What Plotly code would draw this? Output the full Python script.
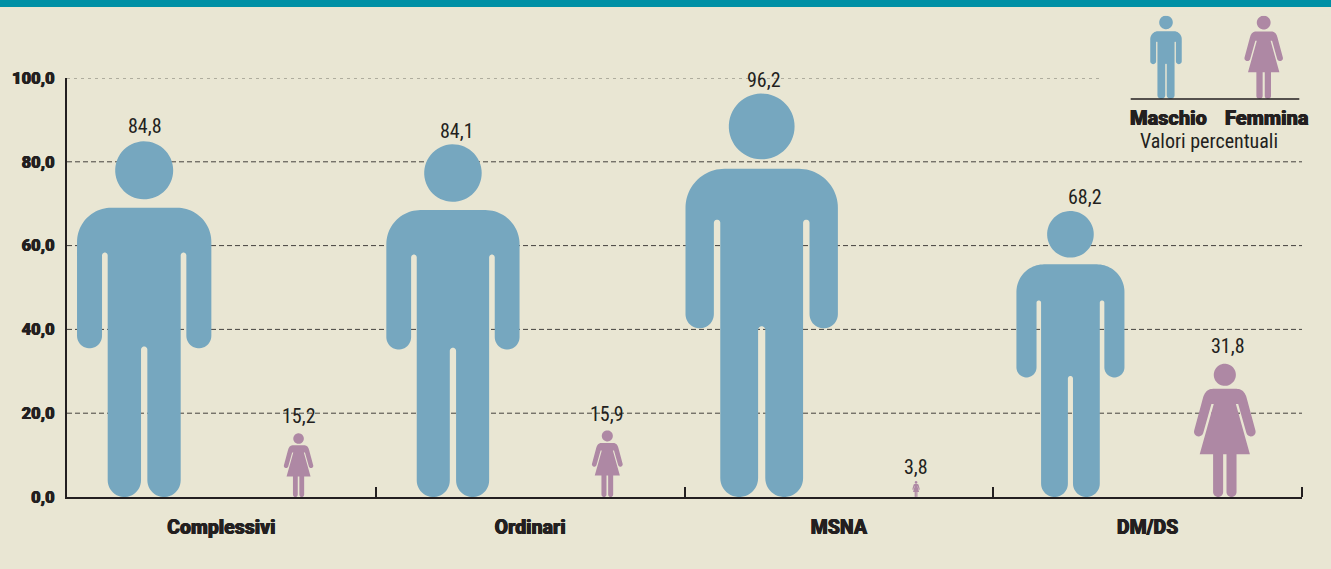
import numpy as np
import plotly.graph_objects as go

# ---- data ----
categories = ["Complessivi", "Ordinari", "MSNA", "DM/DS"]
maschio = [84.8, 84.1, 96.2, 68.2]
femmina = [15.2, 15.9, 3.8, 31.8]
y_ticks = [0, 20, 40, 60, 80, 100]
legend_labels = ["Maschio", "Femmina"]
legend_note = "Valori percentuali"

# ---- style ----
W, H = 1331, 569
PL, PR, PT, PB = 67, 1302, 78, 497        # plot box in pixels
PX_X = (PR - PL) / 4.0                    # pixels per group
PX_Y = (PB - PT) / 100.0                  # pixels per percentage point
BG = "#E9E6D3"
TEAL = "#0090A5"
INK = "#231F20"
BLUE = "#76A7BF"
MAUVE = "#AE88A4"
THICK = "0.4px 0 0 #231F20, -0.4px 0 0 #231F20"
HEAVY = dict(family="Roboto, Liberation Sans, sans-serif", color=INK, weight=900, shadow=THICK)
NARROW = "Liberation Sans Narrow, Roboto Condensed, Liberation Sans, sans-serif"
# label placement relative to the top of each figure, pixels
male_dx, male_dy = [1, 4, 2, 15], [15.7, 13.6, 14, 14]
female_dx, female_dy = [0, 0, 0, 3], [17, 16, 14, 18]


def px(x):
    return x / W


def py(y):
    return 1 - y / H


def arc(cx, cy, r, a0, a1, n=24):
    t = np.radians(np.linspace(a0, a1, n))
    return list(zip(cx + r * np.cos(t), cy + r * np.sin(t)))


def bez(p0, c, p1, n=14):
    t = np.linspace(0, 1, n)
    return [((1 - s) ** 2 * p0[0] + 2 * s * (1 - s) * c[0] + s * s * p1[0],
             (1 - s) ** 2 * p0[1] + 2 * s * (1 - s) * c[1] + s * s * p1[1]) for s in t]


def person(left_half, head_h, head_r, total):
    """Mirror a left-hand outline, add a head; unit height template."""
    pts = left_half + [(-x, y) for x, y in reversed(left_half)]
    pts.append(pts[0])
    head = arc(0, head_h, head_r, 0, 360, 60)
    u = [p[0] / total for p in pts] + [None] + [p[0] / total for p in head]
    v = [p[1] / total for p in pts] + [None] + [p[1] / total for p in head]
    return u, v


male_left = (
    [(0, 868)]
    + arc(-98.5, 765, 103, 90, 180)
    + arc(-164, 483.5, 37.5, 180, 360)
    + arc(-118, 725, 8.5, 180, 0, 10)
    + arc(-59.5, 50, 50, 180, 360)
    + arc(0, 442, 9.5, 180, 90, 8)
)
MALE = person(male_left, 980, 87, 1066)

female_left = (
    [(0, 323)]
    + bez((-35, 323), (-58, 323), (-65.5, 295))
    + arc(-78, 195, 14, 165, 345)
    + [(-40, 278), (-33, 278), (-75, 128), (-35, 128)]
    + arc(-20, 15, 15, 180, 360, 16)
    + [(-5, 128), (0, 128)]
)
FEMALE = person(female_left, 365, 33, 398)


def glyph_trace(glyph, centre_x, height, xscale, colour, xaxis="x", yaxis="y"):
    u, v = glyph
    xs = [None if a is None else centre_x + a * xscale for a in u]
    ys = [None if b is None else b * height for b in v]
    return go.Scatter(x=xs, y=ys, mode="lines", fill="toself", fillcolor=colour,
                      line=dict(width=0, color=colour, simplify=False), hoverinfo="skip",
                      showlegend=False, cliponaxis=False, xaxis=xaxis, yaxis=yaxis)


fig = go.Figure()
annotations = []
for i in range(len(categories)):
    fig.add_trace(glyph_trace(MALE, i + 0.25, maschio[i], maschio[i] * PX_Y / PX_X, BLUE))
    fig.add_trace(glyph_trace(FEMALE, i + 0.75, femmina[i], femmina[i] * PX_Y / PX_X, MAUVE))
    for xpos, val, dx, dy in ((i + 0.25, maschio[i], male_dx[i], male_dy[i]),
                              (i + 0.75, femmina[i], female_dx[i], female_dy[i])):
        annotations.append(dict(
            x=xpos, y=val, xref="x", yref="y", xshift=dx, yshift=dy,
            text=f"{val:.1f}".replace(".", ","), showarrow=False,
            xanchor="center", yanchor="middle",
            font=dict(family=NARROW, size=20, color=INK)))

# legend pictograms on their own small axes (x in pixels, y = 0..1 of figure height)
fig.add_trace(glyph_trace(MALE, 66, 1, 83.3, BLUE, "x2", "y2"))
fig.add_trace(glyph_trace(FEMALE, 163.7, 1, 83.3, MAUVE, "x2", "y2"))

shapes = [
    dict(type="rect", xref="paper", yref="paper", x0=0, x1=1, y0=py(7), y1=1,
         fillcolor=TEAL, line_width=0, layer="below"),
    dict(type="line", xref="paper", yref="paper", x0=px(1130.7), x1=px(1299.3),
         y0=py(99), y1=py(99), line=dict(color=INK, width=1.5)),
]
for t in y_ticks[1:]:
    top = t == y_ticks[-1]
    shapes.append(dict(
        type="line", xref="x", yref="y", x0=0,
        x1=(1100 - PL) / PX_X if top else 4, y0=t, y1=t, layer="below",
        line=dict(color="#77746a" if top else "#45423e", width=1,
                  dash="3px,4px" if top else "5px,3px"),
    ))

for lab, cx in zip(legend_labels, [1168, 1267]):
    annotations.append(dict(
        x=px(cx), y=py(118), xref="paper", yref="paper", text=lab, showarrow=False,
        font=dict(size=20, **HEAVY), xanchor="center", yanchor="middle"))
annotations.append(dict(
    x=px(1208.5), y=py(141), xref="paper", yref="paper", text=legend_note, showarrow=False,
    font=dict(family=NARROW, size=20, color=INK), xanchor="center", yanchor="middle"))

fig.update_layout(
    width=W, height=H,
    margin=dict(l=0, r=0, t=0, b=0, autoexpand=False),
    paper_bgcolor=BG, plot_bgcolor=BG,
    separators=",.",
    showlegend=False,
    shapes=shapes,
    annotations=annotations,
    xaxis=dict(
        domain=[px(PL), px(PR)], range=[0, 4], showgrid=False, zeroline=False,
        showline=True, linecolor=INK, linewidth=2, anchor="y",
        tickvals=[i + 0.5 for i in range(4)], ticktext=categories,
        ticks="outside", ticklen=12, tickcolor=BG, tickwidth=0,
        tickfont=dict(size=19.5, **HEAVY),
        minor=dict(tickvals=[1, 2, 3, 4], ticks="inside", ticklen=10,
                   tickwidth=2, tickcolor=INK, showgrid=False),
    ),
    yaxis=dict(
        domain=[py(PB), py(PT)], range=[0, 100], showgrid=False, zeroline=False,
        showline=True, linecolor=INK, linewidth=2, anchor="x",
        tickvals=y_ticks, tickformat=".1f", ticks="", ticklabelstandoff=7,
        tickfont=dict(size=16.5, **HEAVY),
    ),
    xaxis2=dict(domain=[px(1100), px(1331)], range=[0, 231], visible=False, anchor="y2"),
    yaxis2=dict(domain=[py(99), py(15.7)], range=[0, 1], visible=False, anchor="x2"),
)

fig.write_html("out.html", config={"displayModeBar": False},
               post_script="document.body.style.margin='0';document.body.style.background='%s';" % BG)
